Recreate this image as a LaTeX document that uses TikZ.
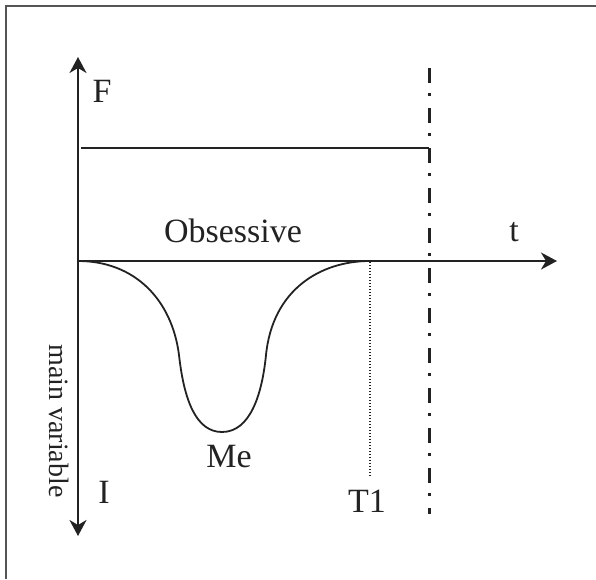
\documentclass[tikz,border=0pt]{standalone}
\usepackage{fontspec}
\setmainfont{Liberation Serif}
\usetikzlibrary{arrows.meta}
\definecolor{ink}{HTML}{222222}
\definecolor{framegray}{HTML}{555555}
\begin{document}
\begin{tikzpicture}[x=1pt,y=-1pt,
  axis/.style={draw=ink,line width=2pt,-{Stealth[length=16pt,width=17pt,inset=5pt]}},
  plain/.style={draw=ink,line width=1.6pt},
  curve/.style={draw=ink,line width=1.8pt},
  dashdot/.style={draw=ink,line width=3pt,dash pattern=on 15pt off 10pt on 3pt off 12pt},
  dots/.style={draw=ink,line width=1.2pt,dash pattern=on 1.4pt off 1.6pt},
  lbl/.style={text=ink,font=\fontsize{34}{40}\selectfont,inner sep=0pt},
  small/.style={text=ink,font=\fontsize{28}{32}\selectfont,inner sep=0pt}]
\useasboundingbox (0,0) rectangle (596,579);
% frame (top and left edges)
\draw[framegray,line width=2pt] (5.5,579) -- (5.5,6) -- (596,6);
% coordinates
\coordinate (O) at (78,261);
\coordinate (ytop) at (78,57);
\coordinate (ybot) at (78,536);
\coordinate (xend) at (557,261);
\coordinate (Fl) at (81,148);
\coordinate (Fr) at (429,148);
\coordinate (ddtop) at (429,68);
\coordinate (ddbot) at (429,514);
\coordinate (T1top) at (370,262);
\coordinate (T1bot) at (370,476);
\coordinate (Cend) at (370,261);
% axes
\draw[axis] (O) -- (ytop);
\draw[axis] (O) -- (ybot);
\draw[axis] (O) -- (xend);
% F level line
\draw[plain] (Fl) -- (Fr);
% dash-dot limit
\draw[dashdot] (ddtop) -- (ddbot);
% dotted T1 line
\draw[dots] (T1top) -- (T1bot);
% obsessive curve
\draw[curve] (O) .. controls (135,261) and (172,300) .. (179,355)
  .. controls (184,400) and (196,432) .. (222,432)
  .. controls (250,432) and (262,395) .. (266,355)
  .. controls (272.5,290) and (320,261) .. (Cend);
% labels
\node[lbl,anchor=base] (F) at (102,102) {F};
\node[lbl,anchor=base] (t) at (514,241) {t};
\node[lbl,anchor=base] (obs) at (233,242) {Obsessive};
\node[lbl,anchor=base] (Me) at (229,467) {Me};
\node[lbl,anchor=base] (I) at (104,503) {I};
\node[lbl,anchor=base] (T1) at (367,512) {T1};
\node[small,rotate=-90] (mv) at (59,421) {main variable};
\end{tikzpicture}
\end{document}
